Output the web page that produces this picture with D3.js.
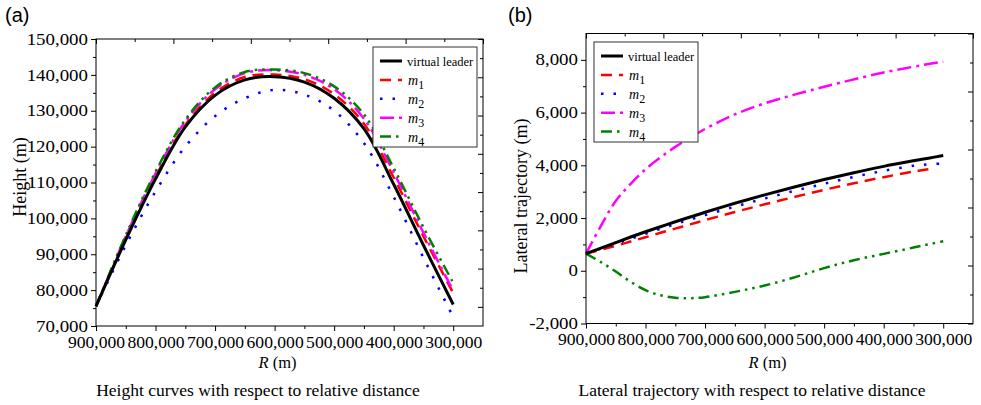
<!DOCTYPE html>
<html lang="en">
<head>
<meta charset="utf-8">
<title>height and lateral trajectory</title>
<script src="https://d3js.org/d3.v7.min.js"></script>
<style>
body { margin: 0; background: #fff; }
svg text { font-family: "Liberation Serif", "Times New Roman", serif; fill: #000; }
.ax .tick text { font-family: "Liberation Serif", "Times New Roman", serif; font-size: 16px; transform-box: fill-box; }
.xax .tick text { transform-origin: center; transform: scaleX(1.1); }
.yax .tick text { transform-origin: right center; transform: scaleX(1.18); }
.ax line { stroke: #000; stroke-width: 1; }
</style>
</head>
<body>
<svg id="chart" width="981" height="405"></svg>
<script>
// relative distance R (m), x axis of both panels
const heightR = [900000, 850000, 800000, 750000, 700000, 650000, 600000, 550000, 500000, 450000, 400000, 350000, 300000];
const heightLeader = [75500, 94000, 111000, 125500, 134300, 138600, 139500, 138000, 133500, 125000, 109500, 92500, 76000];
const heightM1 = [75500, 94400, 111600, 126000, 135000, 139400, 140100, 138800, 134600, 126400, 111400, 95000, 79200];
const heightM2 = [75500, 92500, 107500, 120000, 128500, 133500, 135800, 134500, 130000, 121000, 106000, 89000, 72500];
const heightM3 = [75500, 95000, 112500, 127000, 136000, 140500, 141300, 140000, 136000, 127800, 112800, 96000, 79800];
const heightM4 = [75500, 95300, 113000, 127500, 136500, 140800, 141500, 140500, 136800, 129000, 114000, 97500, 82000];

const latR = [900000, 875000, 850000, 825000, 800000, 775000, 750000, 725000, 700000, 650000, 600000, 550000, 500000, 450000, 400000, 350000, 325000, 300000];
const latLeader = [650, 860, 1070, 1280, 1480, 1670, 1860, 2040, 2220, 2560, 2880, 3180, 3460, 3720, 3960, 4170, 4270, 4370];
const latM1 = [650, 800, 950, 1110, 1270, 1440, 1600, 1760, 1920, 2230, 2520, 2800, 3070, 3320, 3550, 3760, 3850, null];
const latM2 = [650, 840, 1020, 1210, 1400, 1590, 1770, 1940, 2110, 2430, 2740, 3030, 3300, 3560, 3790, 3980, 4040, 4070];
const latM3 = [650, 1700, 2650, 3300, 3850, 4300, 4700, 5050, 5380, 5930, 6350, 6680, 6980, 7260, 7520, 7740, 7840, 7930];
const latM4 = [650, 330, -30, -420, -730, -930, -1020, -1040, -1000, -800, -560, -250, 100, 400, 640, 880, 1000, 1120];

const xTicks = [900000, 800000, 700000, 600000, 500000, 400000, 300000];
const heightTicks = [70000, 80000, 90000, 100000, 110000, 120000, 130000, 140000, 150000];
const latTicks = [-2000, 0, 2000, 4000, 6000, 8000];

const seriesNames = ["virtual leader", "1", "2", "3", "4"];
const seriesColors = ["#000000", "#ff0000", "#0000ff", "#ff00ff", "#008000"];
const seriesDash = [null, "11,7", "2.5,10", "14,5,3,5", "11,5,2.5,5,2.5,5"];
const seriesWidth = [3, 2.5, 2.5, 2.5, 2.5];

const svg = d3.select("#chart");
const fmt = v => d3.format(",")(v).replace("\u2212", "-");

function drawPanel(o) {
  const g = svg.append("g");
  const x = d3.scaleLinear().domain([900000, 250000]).range([o.left, o.right]);
  const y = d3.scaleLinear().domain(o.yDomain).range([o.bottom, o.top]);
  const noDomain = a => a.select(".domain").remove();

  // bottom axis
  const xMinor = d3.range(850000, 250000, -100000);
  g.append("g").attr("class", "ax xax").attr("transform", `translate(0,${o.bottom})`)
    .call(d3.axisBottom(x).tickValues(xTicks).tickFormat(fmt).tickSize(5).tickPadding(5.5)).call(noDomain);
  g.append("g").attr("class", "ax").attr("transform", `translate(0,${o.bottom})`)
    .call(d3.axisBottom(x).tickValues(xMinor).tickFormat("").tickSize(3)).call(noDomain);

  // left axis
  const yStep = o.yTicks[1] - o.yTicks[0];
  const yMinor = o.yTicks.slice(0, -1).map(v => v + yStep / 2).filter(v => v < o.yDomain[1]);
  g.append("g").attr("class", "ax yax").attr("transform", `translate(${o.left},0)`)
    .call(d3.axisLeft(y).tickValues(o.yTicks).tickFormat(fmt).tickSize(5).tickPadding(3)).call(noDomain);
  g.append("g").attr("class", "ax").attr("transform", `translate(${o.left},0)`)
    .call(d3.axisLeft(y).tickValues(yMinor).tickFormat("").tickSize(3)).call(noDomain);

  // mirrored top / right ticks (no labels)
  const top = d3.scaleLinear().domain([0, 10]).range([o.left, o.right]);
  g.append("g").attr("class", "ax").attr("transform", `translate(0,${o.top})`)
    .call(d3.axisTop(top).tickValues(d3.range(0, 11, 2)).tickFormat("").tickSize(-5)).call(noDomain);
  g.append("g").attr("class", "ax").attr("transform", `translate(0,${o.top})`)
    .call(d3.axisTop(top).tickValues(d3.range(1, 10, 2)).tickFormat("").tickSize(-3)).call(noDomain);
  const right = d3.scaleLinear().domain([0, o.rightDiv]).range([o.top, o.bottom]);
  g.append("g").attr("class", "ax").attr("transform", `translate(${o.right},0)`)
    .call(d3.axisRight(right).tickValues(d3.range(0, o.rightDiv + 1, 2)).tickFormat("").tickSize(-5)).call(noDomain);
  g.append("g").attr("class", "ax").attr("transform", `translate(${o.right},0)`)
    .call(d3.axisRight(right).tickValues(d3.range(1, o.rightDiv, 2)).tickFormat("").tickSize(-3)).call(noDomain);

  // curves
  const line = d3.line()
    .defined(d => d[1] != null)
    .x(d => x(d[0])).y(d => y(d[1]))
    .curve(d3.curveCatmullRom.alpha(0.5));
  const paths = o.series.map((vals, i) => {
    const path = g.append("path")
      .datum(o.r.map((r, k) => [r, vals[k]]))
      .attr("d", line)
      .attr("fill", "none")
      .attr("stroke", seriesColors[i])
      .attr("stroke-width", seriesWidth[i]);
    if (seriesDash[i]) path.attr("stroke-dasharray", seriesDash[i]);
    return path;
  });
  paths[0].raise(); // leader drawn over the others

  // frame
  g.append("rect")
    .attr("x", o.left).attr("y", o.top)
    .attr("width", o.right - o.left).attr("height", o.bottom - o.top)
    .attr("fill", "none").attr("stroke", "#000").attr("stroke-width", 1);

  // legend
  const lg = g.append("g").attr("transform", `translate(${o.legend[0]},${o.legend[1]})`);
  lg.append("rect").attr("width", 104).attr("height", 100)
    .attr("fill", "#fff").attr("stroke", "#333").attr("stroke-width", 1);
  seriesNames.forEach((name, i) => {
    const ry = 14 + i * 18.9;
    const s = lg.append("line")
      .attr("x1", 7).attr("x2", 29).attr("y1", ry).attr("y2", ry)
      .attr("stroke", seriesColors[i]).attr("stroke-width", seriesWidth[i]);
    if (seriesDash[i]) s.attr("stroke-dasharray", seriesDash[i]);
    if (i === 0) {
      lg.append("text").attr("x", 34).attr("y", ry + 4.5)
        .style("font-size", "12.5px").text(name);
    } else {
      const t = lg.append("text").attr("x", 35).attr("y", ry + 5.5);
      t.append("tspan").style("font-size", "14px").style("font-style", "italic").text("m");
      t.append("tspan").attr("dy", 3.5).style("font-size", "12px").text(name);
    }
  });

  // axis titles
  g.append("text")
    .attr("transform", `translate(${o.yTitle[0]},${o.yTitle[1]}) rotate(-90)`)
    .attr("text-anchor", "middle").style("font-size", "18px").text(o.yLabel);
  const xt = g.append("text")
    .attr("x", (o.left + o.right) / 2 - 12).attr("y", 368)
    .attr("text-anchor", "middle").style("font-size", "16.5px");
  xt.append("tspan").style("font-style", "italic").text("R");
  xt.append("tspan").text(" (m)");
  g.append("text")
    .attr("x", o.captionX).attr("y", 396)
    .attr("text-anchor", "middle").style("font-size", "17.5px").text(o.caption);
  g.append("text")
    .attr("x", o.tag[0]).attr("y", o.tag[1])
    .style("font-family", "'Liberation Sans', Arial, sans-serif").style("font-size", "20px")
    .text(o.tagText);
}

drawPanel({
  left: 96, right: 483, top: 39, bottom: 326,
  yDomain: [70000, 150000], yTicks: heightTicks, rightDiv: 15,
  r: heightR, series: [heightLeader, heightM1, heightM2, heightM3, heightM4],
  legend: [373, 47], yTitle: [26, 177], yLabel: "Height (m)",
  caption: "Height curves with respect to relative distance", captionX: 258,
  tag: [5, 22], tagText: "(a)"
});

drawPanel({
  left: 586, right: 973, top: 33.5, bottom: 323.5,
  yDomain: [-2000, 9000], yTicks: latTicks, rightDiv: 10,
  r: latR, series: [latLeader, latM1, latM2, latM3, latM4],
  legend: [594, 42], yTitle: [527, 196], yLabel: "Lateral trajectory (m)",
  caption: "Lateral trajectory with respect to relative distance", captionX: 752,
  tag: [508, 22], tagText: "(b)"
});
</script>
</body>
</html>
